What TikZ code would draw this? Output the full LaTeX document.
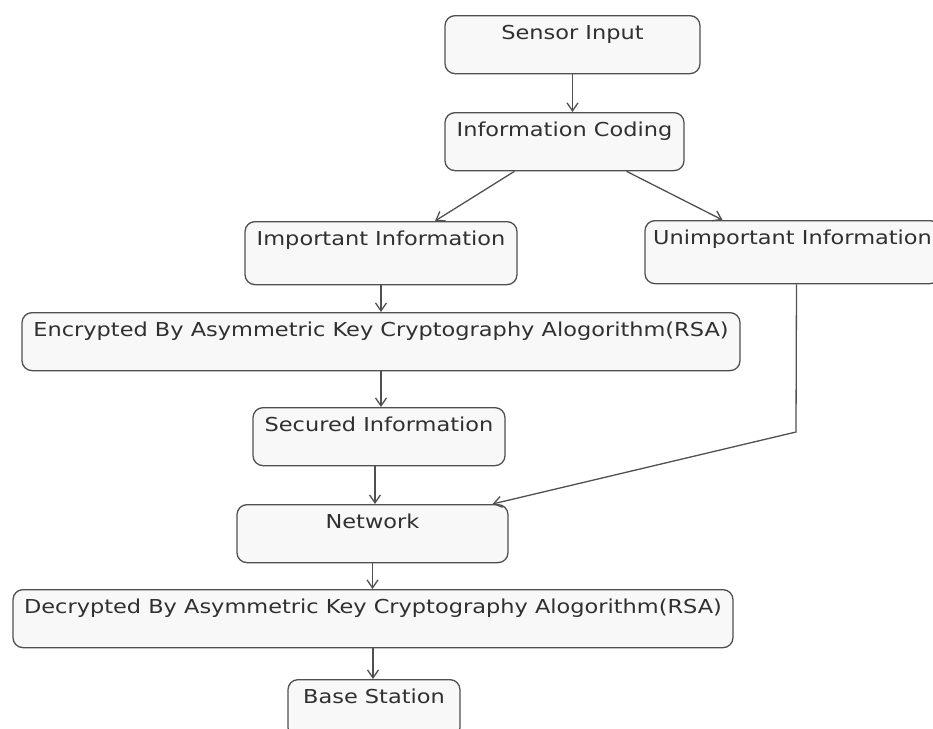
\documentclass[tikz,border=0pt]{standalone}
\usepackage{fontspec}
\setmainfont[FakeStretch=1.17]{DejaVu Sans}
\usetikzlibrary{positioning, arrows.meta, calc}
\definecolor{edge}{HTML}{505050}
\definecolor{boxbg}{HTML}{F8F8F8}
\definecolor{txt}{HTML}{303030}
\tikzset{
  blk/.style  = {draw=edge, fill=boxbg, rounded corners=5pt, line width=0.65pt,
                 anchor=north, inner sep=0pt, text height=12pt, text depth=17pt,
                 text=txt, font=\fontsize{9.6}{11}\selectfont},
  tall/.style = {text depth=19.5pt},
  ar/.style   = {-{Straight Barb[length=4pt, width=5.5pt]}, draw=edge,
                 line width=0.65pt},
}

\begin{document}
\begin{tikzpicture}[x=0.5pt, y=-0.5pt]
  \useasboundingbox (0,0) rectangle (933,729);
  % ---- sender side ----
  \node[blk, minimum width=127.5pt] (sensor) at (572.5,15) {Sensor Input};
  \node[blk, minimum width=119.5pt] (coding) at (564.5,112) {Information Coding};
  \node[blk, tall, minimum width=136pt] (important) at (381,221) {Important Information};
  \node[blk, tall, minimum width=147.5pt] (unimp) at (792.5,220) {Unimportant Information};
  \node[blk, minimum width=359pt] (encrypted) at (381,312)
    {Encrypted By Asymmetric Key Cryptography Alogorithm(RSA)};
  \node[blk, minimum width=126pt] (secured) at (379,407) {Secured Information};
  \draw[ar] (sensor.south) -- (sensor.south |- coding.north);
  \draw[ar] ([xshift=-25pt]coding.south) -- ([xshift=27pt]important.north);
  \draw[ar] ([xshift=31pt]coding.south) -- ([xshift=-35pt]unimp.north);
  \draw[ar] (important.south) -- (important.south |- encrypted.north);
  \draw[ar] (encrypted.south) -- (encrypted.south |- secured.north);

  % ---- receiver side ----
  \node[blk, minimum width=135.5pt] (network) at (372.5,504) {Network};
  \node[blk, minimum width=360pt] (decrypted) at (373,589)
    {Decrypted By Asymmetric Key Cryptography Alogorithm(RSA)};
  \node[blk, minimum width=86pt] (base) at (374,679) {Base Station};
  \coordinate (bend) at (796,432);
  \draw[ar] ([xshift=-2pt]secured.south) -- ([xshift=-2pt]secured.south |- network.north);
  \draw[ar] ([xshift=2pt]unimp.south) -- (bend) -- ([xshift=60pt]network.north);
  \draw[ar] (network.south) -- (network.south |- decrypted.north);
  \draw[ar] (decrypted.south) -- (decrypted.south |- base.north);
\end{tikzpicture}
\end{document}
